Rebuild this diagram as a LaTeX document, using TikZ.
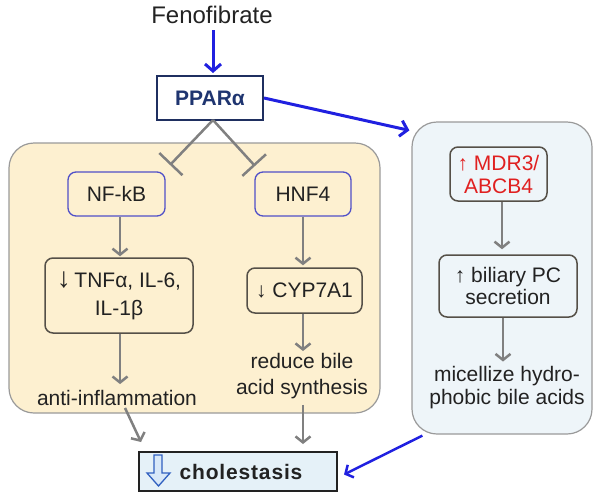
\documentclass[tikz,border=0pt]{standalone}
\usepackage{fontspec}
\setmainfont{Liberation Sans}
\usetikzlibrary{arrows.meta,calc}
\definecolor{navy}{HTML}{1F2F60}
\definecolor{navytext}{HTML}{1F3570}
\definecolor{ablue}{HTML}{2020E0}
\definecolor{agray}{HTML}{808080}
\definecolor{ypanel}{HTML}{FDF0D0}
\definecolor{bpanel}{HTML}{EEF5F9}
\definecolor{pgray}{HTML}{9A9A9A}
\definecolor{boxblue}{HTML}{5050C8}
\definecolor{boxdark}{HTML}{555048}
\definecolor{txt}{HTML}{222222}
\definecolor{mred}{HTML}{E02020}
\definecolor{cholfill}{HTML}{E5F1F8}
\definecolor{arrowblue}{HTML}{3060C0}
\definecolor{arrowfill}{HTML}{D8E8F8}
\begin{document}
\begin{tikzpicture}[x=1pt,y=-1pt,
  every node/.style={font=\fontsize{21}{24}\selectfont, text=txt, inner sep=2pt},
  panelbox/.style={draw=pgray, line width=1.2pt, rounded corners=25pt},
  bluebox/.style={draw=boxblue, line width=1.3pt, rounded corners=8pt, fill=ypanel},
  darkbox/.style={draw=boxdark, line width=1.5pt, rounded corners=8pt},
  plain/.style={align=center},
  garrow/.style={draw=agray, line width=2.5pt, -{Straight Barb[length=6pt,width=15pt]}},
  barrow/.style={draw=ablue, line width=3pt, -{Straight Barb[length=7pt,width=16pt]}},
  inhib/.style={draw=agray, line width=2.5pt, -{Bar[width=32pt]}}
]
\useasboundingbox (0,0) rectangle (601,501);

% panels
\node[panelbox, fill=ypanel, minimum width=371pt, minimum height=270pt] (leftpanel) at (194.5,278) {};
\node[panelbox, fill=bpanel, minimum width=180pt, minimum height=312pt] (rightpanel) at (502,278) {};

% top
\node[font=\fontsize{24}{27}\selectfont] (feno) at (212,15) {Fenofibrate};
\node[draw=navy, line width=2pt, fill=white, minimum width=106pt, minimum height=44pt,
      font=\fontsize{21}{24}\selectfont\bfseries, text=navytext] (ppar) at (210,98) {PPARα};

% left panel nodes
\node[bluebox, minimum width=97pt, minimum height=44pt] (nfkb) at (116.5,194) {NF-kB};
\node[bluebox, minimum width=96pt, minimum height=44pt] (hnf4) at (303,194) {HNF4};
\node[darkbox, minimum width=148pt, minimum height=75pt, align=center,
      font=\fontsize{21}{28}\selectfont] (tnf) at (119,295.5) {{\fontsize{28}{28}\selectfont ↓}\,TNFα, IL-6,\\IL-1β};
\node[darkbox, minimum width=115pt, minimum height=45pt] (cyp) at (304.5,290.5) {↓ CYP7A1};
\node[plain] (anti) at (117,398) {anti-inflammation};
\node[plain, font=\fontsize{21}{26}\selectfont] (reduce) at (302,376) {reduce bile\\acid synthesis};

% right panel nodes
\node[darkbox, fill=bpanel, minimum width=97pt, minimum height=54pt, align=center,
      text=mred, font=\fontsize{21}{23}\selectfont] (mdr) at (498.5,174) {↑ MDR3/\\ABCB4};
\node[darkbox, fill=bpanel, minimum width=138pt, minimum height=62pt, align=center,
      font=\fontsize{21}{22}\selectfont] (bil) at (508,286) {↑ biliary PC\\secretion};
\node[plain, font=\fontsize{21}{23}\selectfont] (mic) at (507,388) {micellize hydro-\\phobic bile acids};

% cholestasis
\node[draw=txt, line width=2pt, fill=cholfill, minimum width=198pt, minimum height=39pt,
      font=\fontsize{21}{24}\selectfont\bfseries\addfontfeature{LetterSpace=4}] (chol) at (238,471.5) {\hspace*{6pt}cholestasis};
\draw[fill=arrowfill, draw=arrowblue, line width=1.3pt]
  ($(chol.west)+(16,-16.5)$) -- ($(chol.west)+(24,-16.5)$) -- ($(chol.west)+(24,1.5)$)
  -- ($(chol.west)+(32,1.5)$) -- ($(chol.west)+(20.5,14.5)$) -- ($(chol.west)+(9,1.5)$)
  -- ($(chol.west)+(16,1.5)$) -- cycle;

% inhibition
\coordinate (apex) at (213,120);
\coordinate (inhL) at (170,165);
\coordinate (inhR) at (255,166);
\draw[inhib] (apex) -- (inhL);
\draw[inhib] (apex) -- (inhR);

% blue arrows
\draw[barrow, shorten <=4pt, shorten >=2pt] (feno.south -| 213,0) -- (ppar.north -| 213,0);
\draw[barrow] (ppar.east) -- ($(rightpanel.north west)+(-2,9)$);
\draw[draw=ablue, line width=2.5pt, -{Straight Barb[length=6pt,width=14pt]}]
  ($(rightpanel.south west)+(11,1)$) -- ($(chol.east)+(6,3)$);

% gray arrows
\draw[garrow, shorten >=1pt] (nfkb.south -| 120,0) -- (tnf.north -| 120,0);
\draw[garrow, shorten >=2pt] (hnf4.south) -- (cyp.north -| hnf4.south);
\draw[garrow, shorten >=4pt] (tnf.south -| 120,0) -- (anti.north -| 120,0);
\draw[garrow] (cyp.south -| 303,0) -- (reduce.north -| 303,0);
\draw[garrow] ($(anti.south)+(8,0)$) -- ($(chol.north west)+(3,-9)$);
\draw[garrow, shorten <=4pt, shorten >=7pt] (reduce.south -| 303,0) -- (chol.north -| 303,0);
\draw[garrow, shorten >=5pt] (mdr.south -| 502,0) -- (bil.north -| 502,0);
\draw[garrow, shorten >=3pt] (bil.south -| 503,0) -- (mic.north -| 503,0);
\end{tikzpicture}
\end{document}
